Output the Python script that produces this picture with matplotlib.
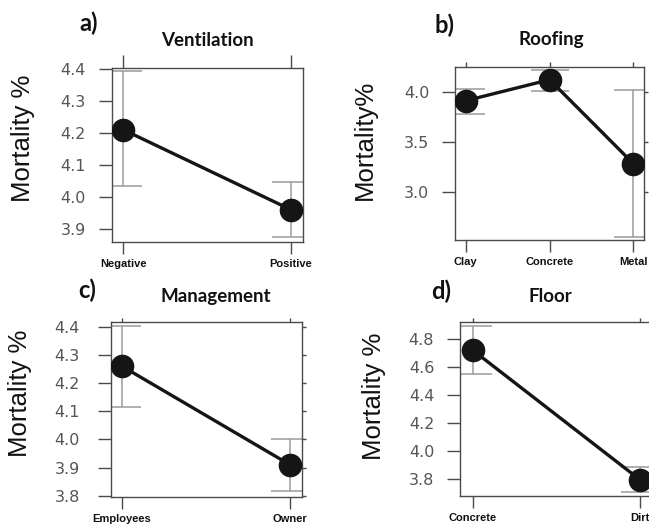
import matplotlib
matplotlib.use("Agg")
import matplotlib.pyplot as plt
from matplotlib import font_manager as fm

# ---------------- data ----------------
vent_cats = ["Negative", "Positive"]
vent_mean = [4.21, 3.96]
vent_low = [4.035, 3.875]
vent_high = [4.392, 4.047]

roof_cats = ["Clay", "Concrete", "Metal"]
roof_mean = [3.91, 4.12, 3.28]
roof_low = [3.78, 4.01, 2.545]
roof_high = [4.025, 4.215, 4.015]

mgmt_cats = ["Employees", "Owner"]
mgmt_mean = [4.26, 3.91]
mgmt_low = [4.115, 3.818]
mgmt_high = [4.402, 4.002]

floor_cats = ["Concrete", "Dirt"]
floor_mean = [4.72, 3.795]
floor_low = [4.55, 3.707]
floor_high = [4.893, 3.883]

vent_yticks = [3.9, 4.0, 4.1, 4.2, 4.3, 4.4]
roof_yticks = [3.0, 3.5, 4.0]
mgmt_yticks = [3.8, 3.9, 4.0, 4.1, 4.2, 4.3, 4.4]
floor_yticks = [3.8, 4.0, 4.2, 4.4, 4.6, 4.8]

titles = ["Ventilation", "Roofing", "Management", "Floor"]
letters = ["a)", "b)", "c)", "d)"]
ylabels = ["Mortality %", "Mortality%", "Mortality %", "Mortality %"]

# ---------------- layout ----------------
W, H = 649, 530
DPI = 100
fig = plt.figure(figsize=(W / DPI, H / DPI), dpi=DPI)
fig.patch.set_facecolor("white")

names = {f.name for f in fm.fontManager.ttflist}
narrow = "Liberation Sans Narrow" if "Liberation Sans Narrow" in names else "Liberation Sans"
title_font = "Lato" if "Lato" in names else "DejaVu Sans"

def px_axes(l, t, r, b):
    return fig.add_axes([l / W, 1 - b / H, (r - l) / W, (b - t) / H])

panels = [
    dict(box=(111.7, 68.3, 302.7, 241.7), cats=vent_cats, mean=vent_mean, low=vent_low,
         high=vent_high, yticks=vent_yticks, ylim=(3.86, 4.402), xlim=(0.931, 2.07),
         top_len=9.4, right=False, ypad=9.4,
         title_xy=(207, 40), letter_xy=(89, 23), ylab_xy=(23, 138.5)),
    dict(box=(455, 67, 643.5, 240), cats=roof_cats, mean=roof_mean, low=roof_low,
         high=roof_high, yticks=roof_yticks, ylim=(2.517, 4.247), xlim=(0.872, 3.12),
         top_len=3.4, right=True, ypad=9.4,
         title_xy=(551.7, 40), letter_xy=(445, 25), ylab_xy=(365, 140)),
    dict(box=(110.7, 322.3, 301.7, 496.7), cats=mgmt_cats, mean=mgmt_mean, low=mgmt_low,
         high=mgmt_high, yticks=mgmt_yticks, ylim=(3.797, 4.415), xlim=(0.935, 2.069),
         top_len=3.0, right=True, ypad=13,
         title_xy=(216, 296.7), letter_xy=(87, 290), ylab_xy=(20.5, 393.5)),
    dict(box=(460, 322.3, 651.7, 496), cats=floor_cats, mean=floor_mean, low=floor_low,
         high=floor_high, yticks=floor_yticks, ylim=(3.679, 4.919), xlim=(0.924, 2.07),
         top_len=3.0, right=True, ypad=9.4,
         title_xy=(550, 296.7), letter_xy=(441.5, 291.7), ylab_xy=(374, 396.5)),
]

box_col = "#4a4a4a"
for i, p in enumerate(panels):
    ax = px_axes(*p["box"])
    x = list(range(1, len(p["cats"]) + 1))
    yerr = [[m - lo for m, lo in zip(p["mean"], p["low"])],
            [hi - m for m, hi in zip(p["mean"], p["high"])]]
    ax.errorbar(x, p["mean"], yerr=yerr, fmt="none", ecolor="#9a9a9a",
                elinewidth=1.1, capsize=13.8, capthick=1.1, zorder=2)
    ax.plot(x, p["mean"], "-o", color="#151515", lw=2.4, ms=16, zorder=3)
    ax.set_xlim(*p["xlim"])
    ax.set_ylim(*p["ylim"])
    ax.set_xticks(x)
    ax.set_xticklabels(p["cats"], fontfamily=narrow, fontweight="bold",
                       fontsize=8, color="#111")
    ax.set_yticks(p["yticks"])
    ax.set_yticklabels([f"{v:.1f}" for v in p["yticks"]], fontfamily="DejaVu Sans",
                       fontsize=11.5, color="#555")
    ax.tick_params(axis="x", direction="out", length=8.6, width=1, color=box_col, pad=3.6)
    ax.tick_params(axis="y", direction="out", length=9.2, width=1, color=box_col, pad=p["ypad"])
    for s in ax.spines.values():
        s.set_color(box_col)
        s.set_linewidth(1.0)
    sec = ax.secondary_xaxis("top")
    sec.set_xticks(x)
    sec.set_xticklabels([])
    sec.tick_params(direction="out", length=p["top_len"], width=1, color=box_col)
    sec.spines["top"].set_visible(False)
    if p["right"]:
        sy = ax.secondary_yaxis("right")
        sy.set_yticks(p["yticks"])
        sy.set_yticklabels([])
        sy.tick_params(direction="out", length=3.2, width=1, color=box_col)
        sy.spines["right"].set_visible(False)

    tx, ty = p["title_xy"]
    fig.text(tx / W, 1 - ty / H, titles[i], ha="center", va="center",
             fontfamily=title_font, fontweight="bold", fontsize=13.5, color="#111")
    lx, ly = p["letter_xy"]
    fig.text(lx / W, 1 - ly / H, letters[i], ha="center", va="center",
             fontfamily=title_font, fontweight="bold", fontsize=17, color="#111")
    yx, yy = p["ylab_xy"]
    fig.text(yx / W, 1 - yy / H, ylabels[i], ha="center", va="center", rotation=90,
             fontfamily="Liberation Sans", fontsize=18.5, color="#111")

fig.savefig("out.png", dpi=DPI, facecolor="white")
